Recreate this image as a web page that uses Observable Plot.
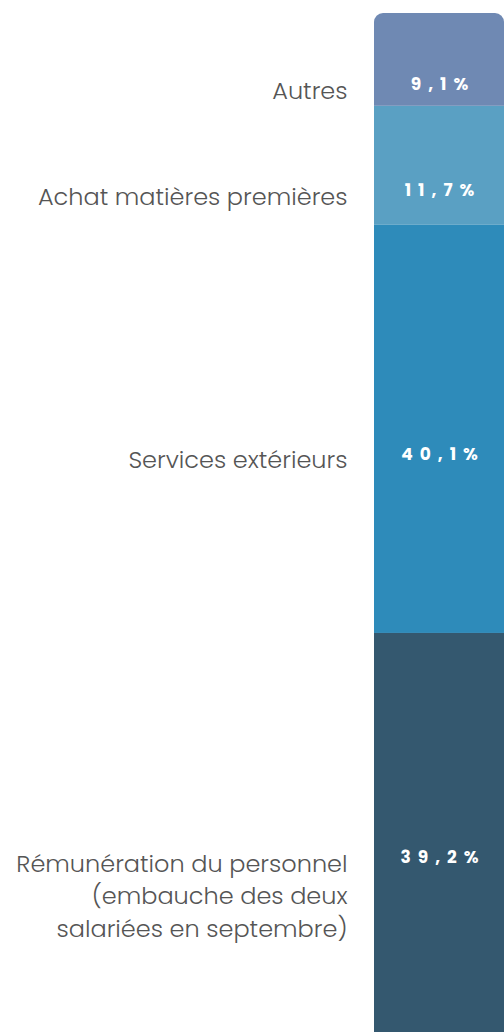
<!DOCTYPE html>
<html><head><meta charset="utf-8">
<script src="https://cdn.jsdelivr.net/npm/d3@7"></script>
<script src="https://cdn.jsdelivr.net/npm/@observablehq/plot@0.6"></script>
<style>
body{margin:0;background:#fff;}
#chart svg{display:block;}
</style></head>
<body><div id="chart"></div>
<script>
// Data (top to bottom)
const categories = [
  "Autres",
  "Achat matières premières",
  "Services extérieurs",
  "Rémunération du personnel\n(embauche des deux\nsalariées en septembre)"
];
const values = [9.1, 11.7, 40.1, 39.2];
const colors = ["#6F89B3", "#5AA0C3", "#2E8BBA", "#34586F"];

// stack from the bottom (last category) upwards
let acc = 0;
const rows = categories.map((name, i) => ({name, value: values[i], i}))
  .reverse()
  .map(d => { const r = {...d, y1: acc, y2: acc + d.value}; acc += d.value; return r; })
  .reverse();
const total = acc;
const fmt = v => String(v).replace(".", ",") + "%";

const chart = Plot.plot({
  width: 504,
  height: 1032,
  marginLeft: 374,
  marginRight: 0,
  marginTop: 13,
  marginBottom: 0,
  style: {fontFamily: "Poppins, 'Open Sans', sans-serif", background: "#fff"},
  x: {domain: ["total"], padding: 0, axis: null},
  y: {domain: [0, total], axis: null},
  color: {domain: categories, range: colors},
  marks: [
    Plot.barY(rows.filter(d => d.i !== 0), {x: () => "total", y1: "y1", y2: "y2", fill: "name"}),
    Plot.barY(rows.filter(d => d.i === 0), {x: () => "total", y1: "y1", y2: "y2", fill: "name", ry1: 9}),
    Plot.text(rows, {
      x: () => "total", y: d => (d.y1 + d.y2) / 2, text: "name",
      textAnchor: "end", lineAnchor: "top", dx: -92, dy: 16,
      fill: "#555", fontSize: 24, fontWeight: 300, lineHeight: 1.35
    }),
    Plot.text(rows, {
      x: () => "total", y: d => (d.y1 + d.y2) / 2, text: d => fmt(d.value),
      dx: 3.5, dy: 25,
      fill: "#fff", fontSize: 17, fontWeight: "bold"
    })
  ]
});
d3.select(chart).selectAll("text")
  .filter(function() { return /%$/.test(this.textContent); })
  .attr("letter-spacing", "7px");
document.getElementById("chart").appendChild(chart);
</script></body></html>
